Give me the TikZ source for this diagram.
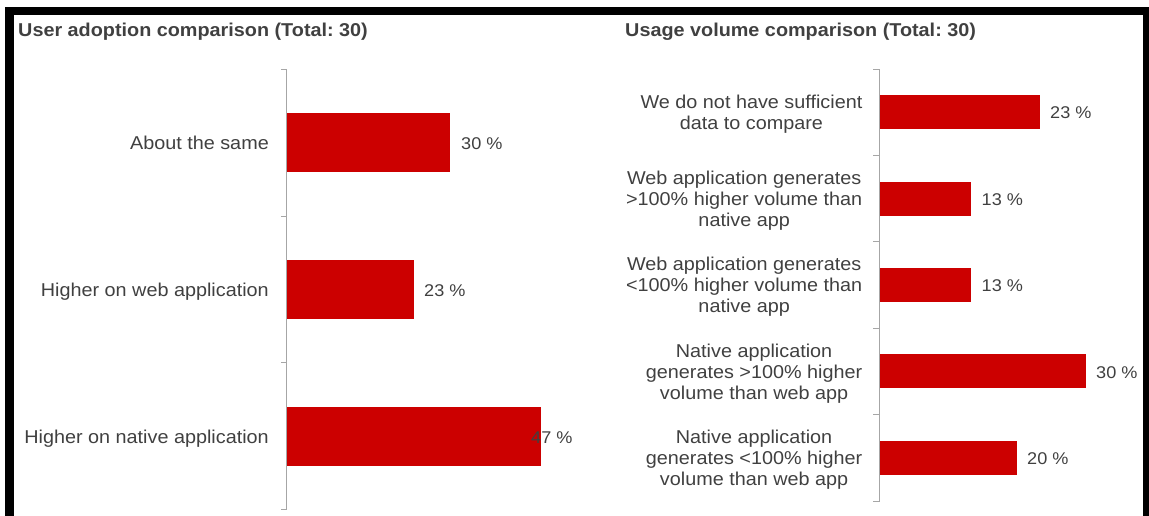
\documentclass[tikz,border=0pt]{standalone}
\usepackage{fontspec}
\setmainfont{Liberation Sans}[FakeStretch=1.065]
\definecolor{barred}{HTML}{CC0000}
\definecolor{txtgray}{HTML}{404040}
\definecolor{axisgray}{HTML}{A6A6A6}
\frenchspacing

\begin{document}
\begin{tikzpicture}[x=1pt,y=-1pt]
\tikzstyle{every node}+=[inner sep=0pt, text=txtgray]
\tikzstyle{heading}=[font=\bfseries\fontsize{18.6}{21}\selectfont, anchor=base west]
\tikzstyle{cat}=[font=\fontsize{18.6}{21}\selectfont, anchor=base east]
\tikzstyle{catbox}=[cat, align=center]
\tikzstyle{pct}=[font=\fontsize{17}{20}\selectfont, anchor=base west]
\tikzstyle{bar}=[fill=barred]
\tikzstyle{axis}=[draw=axisgray, line width=1pt]
\useasboundingbox (0,0) rectangle (1149,515);
% frame
\draw [black, line width=8.5pt] (9.25,530) -- (9.25,11) -- (1147.3,11) -- (1147.3,530);
% user adoption
\node [heading] (titleA) at (18,36) {User adoption comparison (Total: 30)};
\draw [axis] (281,69) -- (286.5,69) -- (286.5,509.5) -- (281,509.5);
\draw [axis] (281,216) -- (286.5,216);
\draw [axis] (281,362.5) -- (286.5,362.5);
\fill [bar] (287,113) rectangle (449.6,172);
\fill [bar] (287,260) rectangle (413.5,319);
\fill [bar] (287,407) rectangle (540.5,466);
\node [cat] (same) at (269,149.2) {About the same};
\node [cat] (higherweb) at (269,296.2) {Higher on web application};
\node [cat] (highernative) at (269,443.2) {Higher on native application};
\node [pct] (sameval) at (461,149.2) {30 \%};
\node [pct] (higherwebval) at (424,296.2) {23 \%};
\node [pct] (highernativeval) at (531,443.2) {47 \%};
% usage volume
\node [heading] (titleB) at (625,36) {Usage volume comparison (Total: 30)};
\draw [axis] (873,69) -- (879.3,69) -- (879.3,501) -- (873,501);
\draw [axis] (873,155.4) -- (879.3,155.4);
\draw [axis] (873,241.8) -- (879.3,241.8);
\draw [axis] (873,328.2) -- (879.3,328.2);
\draw [axis] (873,414.6) -- (879.3,414.6);
\fill [bar] (880,95.2) rectangle (1040,129.2);
\fill [bar] (880,181.6) rectangle (971.4,215.6);
\fill [bar] (880,268) rectangle (971.4,302);
\fill [bar] (880,354.4) rectangle (1085.7,388.4);
\fill [bar] (880,440.8) rectangle (1017,474.8);
% base = last line
\node [catbox] (nodata) at (862.5,129.4) {We do not have sufficient\\data to compare};
\node [catbox] (webmore) at (862.5,226.3) {Web application generates\\>100\% higher volume than\\native app};
\node [catbox] (webless) at (862.5,312.7) {Web application generates\\<100\% higher volume than\\native app};
\node [catbox] (nativemore) at (862.5,399.1) {Native application\\generates >100\% higher\\volume than web app};
\node [catbox] (nativeless) at (862.5,485.5) {Native application\\generates <100\% higher\\volume than web app};
\node [pct] (nodataval) at (1050,118.8) {23 \%};
\node [pct] (webmoreval) at (981.5,205.2) {13 \%};
\node [pct] (weblessval) at (981.5,291.6) {13 \%};
\node [pct] (nativemoreval) at (1096,378) {30 \%};
\node [pct] (nativelessval) at (1027,464.4) {20 \%};
\end{tikzpicture}
\end{document}
